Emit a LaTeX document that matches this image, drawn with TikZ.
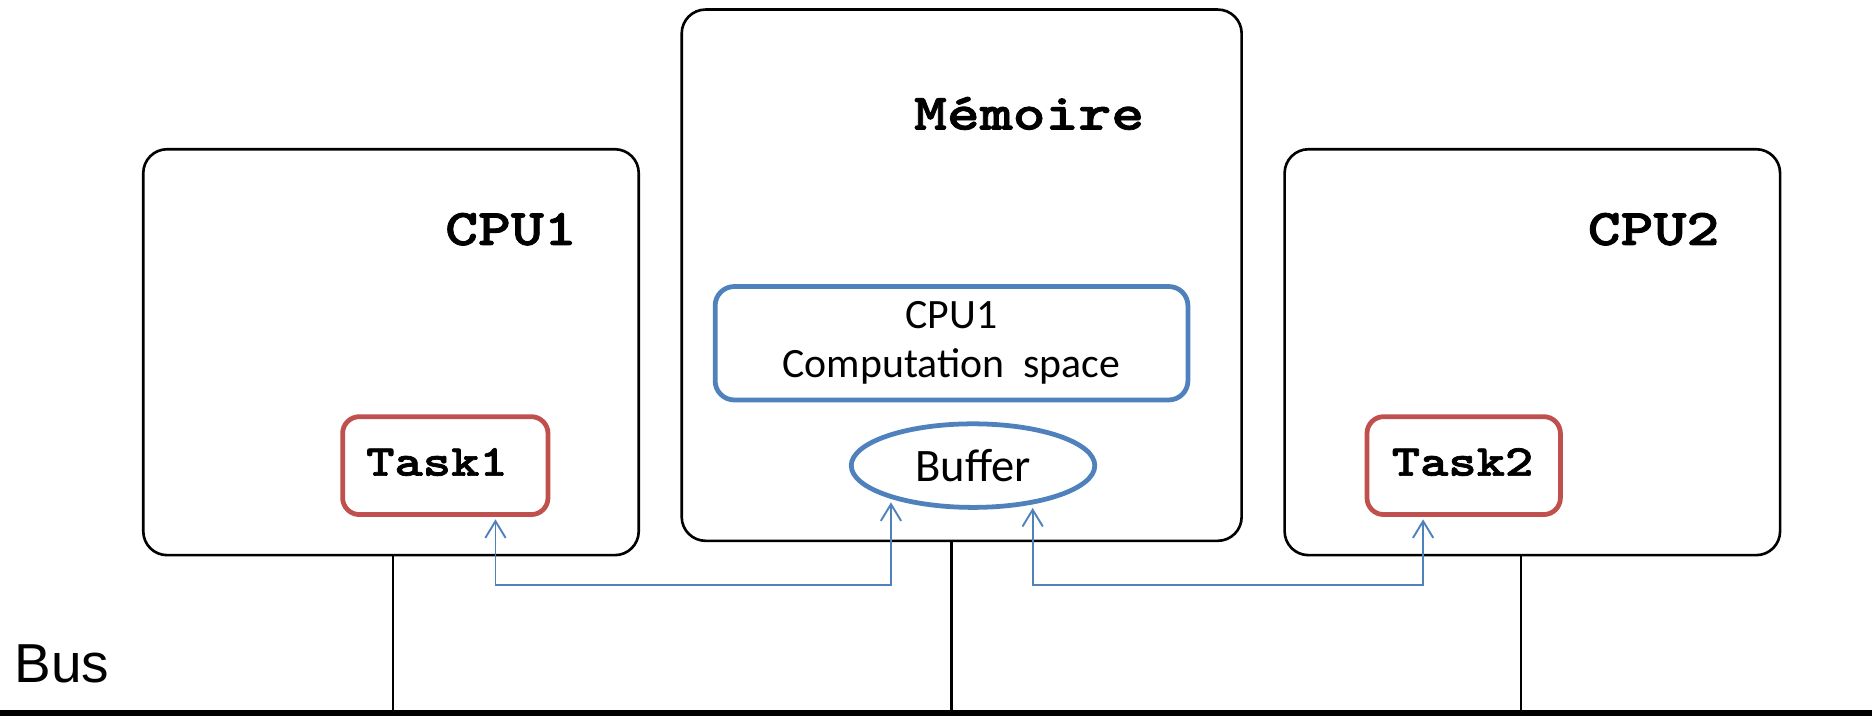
\documentclass[tikz,border=0pt]{standalone}
\usepackage{fontspec}
\usetikzlibrary{arrows.meta,shapes.geometric,calc}
\newfontfamily\codefont{lmmonolt10-bold.otf}[FakeStretch=1.22,FakeBold=1.6]
\newfontfamily\bodyfont{Carlito}
\newfontfamily\busfont{Liberation Sans}
\definecolor{linkblue}{HTML}{4F81BD}
\definecolor{taskred}{HTML}{C0504D}
\tikzset{
  unitbox/.style={draw=black, line width=2.2pt, rounded corners=20pt, inner sep=0pt},
  taskbox/.style={draw=taskred, line width=4pt, rounded corners=14pt, inner sep=0pt},
  spacebox/.style={draw=linkblue, line width=4pt, rounded corners=16pt, inner sep=0pt, align=center},
  bufshape/.style={draw=linkblue, line width=4pt, ellipse, inner sep=0pt},
  title/.style={font=\codefont\fontsize{43}{48}\selectfont, inner sep=0pt},
  tasklabel/.style={font=\codefont\fontsize{37}{42}\selectfont, inner sep=0pt},
  wire/.style={draw=black, line width=2pt},
  link/.style={draw=linkblue, line width=1.6pt, {Straight Barb[length=14pt,width=17pt]}-{Straight Barb[length=14pt,width=17pt]}}
}
\begin{document}
\begin{tikzpicture}[x=1pt, y=-1pt]
\useasboundingbox (0,0) rectangle (1568,599);

% processing units and shared memory
\node[unitbox, minimum width=415pt, minimum height=340pt] (cpu1) at (327.5,295) {};
\node[unitbox, minimum width=469pt, minimum height=445pt] (mem) at (805.5,230.5) {};
\node[unitbox, minimum width=415pt, minimum height=340pt] (cpu2) at (1283.5,295) {};

\node[title] (cpu1t) at (428,192) {CPU1};
\node[title] (memt) at (862,95) {Mémoire};
\node[title] (cpu2t) at (1385,192) {CPU2};

% contents of the memory
\node[spacebox, minimum width=396pt, minimum height=95pt,
      font=\bodyfont\fontsize{35}{41}\selectfont] (comp) at (797,287.5)
      {CPU1\\Computation\ \ space};
\node[bufshape, minimum width=204pt, minimum height=70pt,
      font=\bodyfont\fontsize{39}{40}\selectfont] (buf) at (815,390) {Buffer};

% tasks
\node[taskbox, minimum width=172pt, minimum height=82pt] (task1) at (373,390) {};
\node[tasklabel] (task1t) at (366,387) {Task1};
\node[taskbox, minimum width=162pt, minimum height=82pt] (task2) at (1226,390) {};
\node[tasklabel] (task2t) at (1225,387) {Task2};

% bus
\coordinate (busL) at (0,597);
\coordinate (busR) at (1568,597);
\draw[black, line width=5pt] (busL) -- (busR);
\node[font=\busfont\fontsize{46}{48}\selectfont, anchor=base west, inner sep=0pt] (bust) at (12,572) {Bus};

\draw[wire] ([xshift=1.5pt]cpu1.south) -- ([xshift=1.5pt]cpu1.south |- busL);
\draw[wire] (comp |- mem.south) -- (comp |- busL);
\draw[wire] ([xshift=-9.5pt]cpu2.south) -- ([xshift=-9.5pt]cpu2.south |- busL);

% data exchange through the buffer
\coordinate (lvl) at (0,490);
\coordinate (t1p) at ([xshift=42pt,yshift=-2pt]task1.south);
\coordinate (b1p) at (buf.202.6);
\coordinate (b2p) at (buf.327);
\coordinate (t2p) at ([xshift=-34pt,yshift=-2pt]task2.south);
\draw[link] (t1p) -- (t1p |- lvl) -- (b1p |- lvl) -- ([yshift=-3pt]b1p);
\draw[link] ([yshift=-3pt]b2p) -- (b2p |- lvl) -- (t2p |- lvl) -- (t2p);
\end{tikzpicture}
\end{document}
